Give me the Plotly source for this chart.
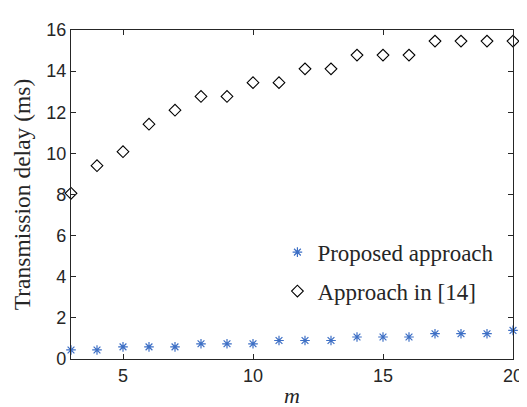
import plotly.graph_objects as go

m_values = list(range(3, 21))
proposed = [0.44, 0.44, 0.59, 0.59, 0.59, 0.74, 0.74, 0.74, 0.90, 0.90, 0.90,
            1.07, 1.07, 1.07, 1.23, 1.23, 1.23, 1.39]
approach14 = [8.06, 9.40, 10.08, 11.42, 12.10, 12.77, 12.77, 13.44, 13.44,
              14.11, 14.11, 14.78, 14.78, 14.78, 15.46, 15.46, 15.46, 15.46]
x_ticks = [5, 10, 15, 20]
y_ticks = [0, 2, 4, 6, 8, 10, 12, 14, 16]

SERIF = "Liberation Serif"
SANS = "Liberation Sans"

fig = go.Figure()
fig.add_trace(go.Scatter(
    x=m_values, y=proposed, mode="markers", name="Proposed approach",
    legendgroup="a", cliponaxis=False,
    marker=dict(symbol="asterisk-open", size=8, color="#3d6fc5",
                line=dict(color="#3d6fc5", width=1.2)),
))
fig.add_trace(go.Scatter(
    x=m_values, y=approach14, mode="markers", name="Approach in [14]",
    legendgroup="b", cliponaxis=False,
    marker=dict(symbol="diamond-open", size=9, color="black",
                line=dict(color="black", width=1.1)),
))

axis_common = dict(
    showline=True, linecolor="#262626", linewidth=1.3, mirror="ticks",
    ticks="inside", ticklen=5, tickwidth=1, tickcolor="#262626",
    showgrid=False, zeroline=False,
    tickfont=dict(family=SANS, size=18, color="#262626"),
)

fig.update_xaxes(range=[3, 20], tickvals=x_ticks,
                 title=dict(text="<i>m</i>", standoff=2,
                            font=dict(family=SERIF, size=22, color="#262626")),
                 **axis_common)
fig.update_yaxes(range=[0, 16], tickvals=y_ticks,
                 title=dict(text="Transmission delay (ms)", standoff=8,
                            font=dict(family=SERIF, size=23.5, color="#262626")),
                 **axis_common)

fig.update_layout(
    width=527, height=407,
    margin=dict(l=63, r=13, t=17, b=45),
    paper_bgcolor="white", plot_bgcolor="white",
    showlegend=True,
    legend=dict(x=0.467, y=0.39, xanchor="left", yanchor="top",
                bgcolor="rgba(0,0,0,0)", tracegroupgap=6,
                font=dict(family=SERIF, size=23, color="#262626")),
)

fig.write_html("out.html")
